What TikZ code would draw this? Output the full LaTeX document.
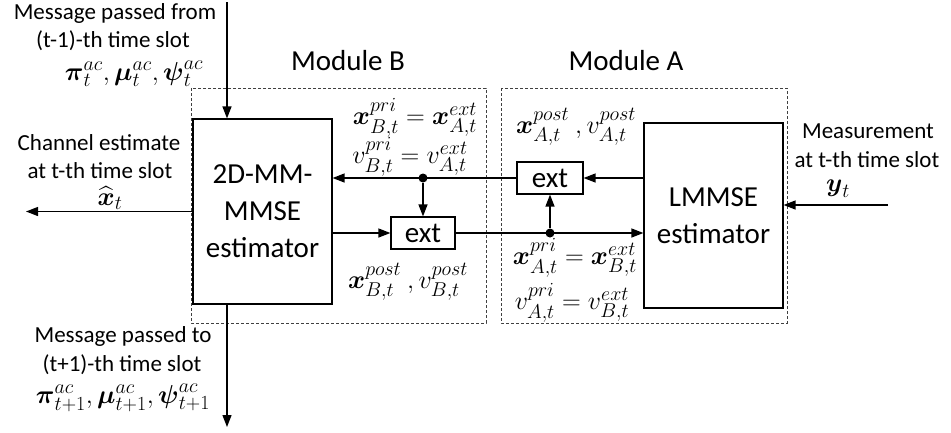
\documentclass[tikz,border=0pt]{standalone}
\usepackage{fix-cm}
\usepackage{amsmath}
\usepackage{fontspec}
\setmainfont{Carlito}
\usetikzlibrary{arrows.meta}
\DeclareMathSizes{26}{26}{20}{15}
\newcommand\fsm{\fontsize{23}{27}\selectfont}
\newcommand\fbig{\fontsize{29}{37}\selectfont}
\newcommand\fmath{\fontsize{26}{30}\selectfont}
\newcommand\bx{\boldsymbol{x}}
\begin{document}
\begin{tikzpicture}[x=1pt,y=-1pt,line width=1.3pt,
  >={Triangle[length=12pt,width=9pt]},
  blk/.style={draw,line width=1.2pt,inner sep=0pt,align=center,font=\fbig},
  txt/.style={inner sep=0pt,font=\fsm,anchor=base},
  mth/.style={inner sep=0pt,font=\fmath},
  modbox/.style={draw=black!75,line width=0.8pt,dash pattern=on 3pt off 2pt},
  dot/.style={circle,fill,inner sep=0pt,minimum size=9pt}]
\useasboundingbox (0,0) rectangle (951,432);
% module frames
\draw[modbox] (191,88) rectangle (486,323);
\draw[modbox] (501,88) rectangle (787,323);
\node[txt,font=\fbig] (modB) at (348,70) {Module B};
\node[txt,font=\fbig] (modA) at (626,70) {Module A};
% blocks
\node[blk,minimum width=139pt,minimum height=185pt] (mm) at (262.5,211.5) {2D-MM-\\MMSE\\estimator};
\node[blk,minimum width=139pt,minimum height=185pt] (lm) at (713.5,215.5) {LMMSE\\estimator};
\node[blk,minimum width=66pt,minimum height=32pt] (extA) at (550,178) {ext};
\node[blk,minimum width=64pt,minimum height=32pt] (extB) at (423,233) {ext};
% dots
\node[dot] (dotB) at (extB |- extA) {};
\node[dot] (dotA) at (extA |- extB) {};
% connectors
\draw[->] (extA -| lm.west) -- (extA.east);
\draw[->] (extA.west) -- (extA -| mm.east);
\draw[->] (dotB) -- (extB.north);
\draw[->] (extB -| mm.east) -- (extB.west);
\draw[->] (extB.east) -- (extB -| lm.west);
\draw[->] (dotA) -- (extA.south);
\coordinate (outL) at (26,211.5);
\coordinate (inT) at (227,2);
\coordinate (outB) at (227,427);
\coordinate (inR) at (888,205);
\draw[->] (mm.west) -- (outL);
\draw[->] (inT) -- (inT |- mm.north);
\draw[->] (outB |- mm.south) -- (outB);
\draw[->] (inR) -- (inR -| lm.east);
% outer texts
\node[txt] (t1) at (115,19) {Message passed from};
\node[txt] (t2) at (113,47) {(t-1)-th time slot};
\node[mth] (m1) at (134,74) {$\boldsymbol{\pi}_t^{ac},\boldsymbol{\mu}_t^{ac},\boldsymbol{\psi}_t^{ac}$};
\node[txt] (t3) at (99,150) {Channel estimate};
\node[txt] (t4) at (100,178) {at t-th time slot};
\node[mth] (m2) at (110,198) {$\widehat{\bx}_t$};
\node[txt] (t5) at (123,342) {Message passed to};
\node[txt] (t6) at (122,371) {(t+1)-th time slot};
\node[mth] (m3) at (123,398) {$\boldsymbol{\pi}_{t+1}^{ac},\boldsymbol{\mu}_{t+1}^{ac},\boldsymbol{\psi}_{t+1}^{ac}$};
\node[txt] (t7) at (868,138) {Measurement};
\node[txt] (t8) at (867,167) {at t-th time slot};
\node[mth] (m4) at (838,189) {$\boldsymbol{y}_t$};
% inner math labels
\node[mth] (xpriB) at (415,118) {$\bx^{pri}_{B,t}=\bx^{ext}_{A,t}$};
\node[mth] (vpriB) at (410,157) {$v^{pri}_{B,t}=v^{ext}_{A,t}$};
\node[mth] (xpostA) at (576,127) {$\bx^{post}_{A,t}\ ,v^{post}_{A,t}$};
\node[mth] (xpostB) at (408,282) {$\bx^{post}_{B,t}\ ,v^{post}_{B,t}$};
\node[mth] (xpriA) at (575,258) {$\bx^{pri}_{A,t}=\bx^{ext}_{B,t}$};
\node[mth] (vpriA) at (572,303) {$v^{pri}_{A,t}=v^{ext}_{B,t}$};
\end{tikzpicture}
\end{document}
